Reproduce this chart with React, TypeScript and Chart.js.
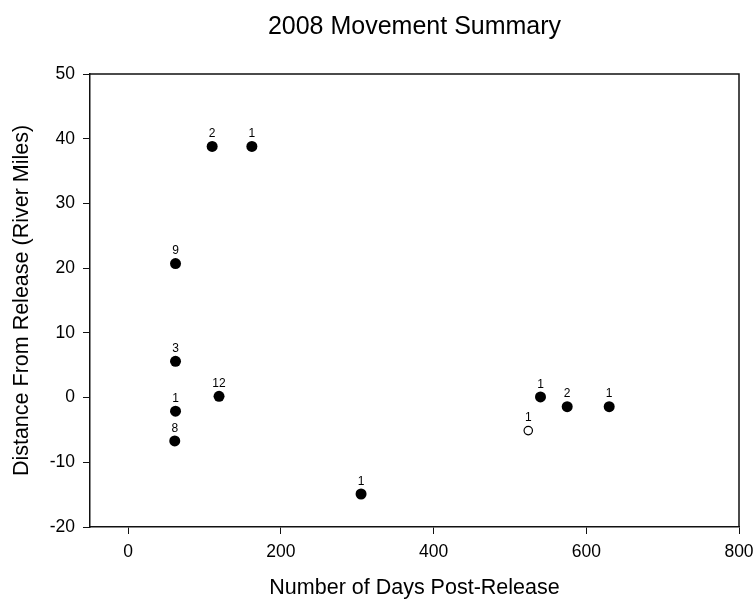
import React, { useEffect, useRef } from "react";
import { Chart, registerables } from "chart.js";

Chart.register(...registerables);

const TITLE = "2008 Movement Summary";
const X_TITLE = "Number of Days Post-Release";
const Y_TITLE = "Distance From Release (River Miles)";

// filled points
const days = [61, 62, 62, 62, 119, 110, 162, 305, 540, 575, 630];
const miles = [-6.7, -2.1, 5.6, 20.7, 0.2, 38.8, 38.8, -14.9, 0.1, -1.4, -1.4];
const counts = ["8", "1", "3", "9", "12", "2", "1", "1", "1", "2", "1"];

// open point
const openDays = [524];
const openMiles = [-5.1];
const openCounts = ["1"];

const xTicks = [0, 200, 400, 600, 800];
const yTicks = [-20, -10, 0, 10, 20, 30, 40, 50];

const FONT = '"Liberation Sans", Arial, sans-serif';

export default function App() {
  const ref = useRef<HTMLCanvasElement | null>(null);

  useEffect(() => {
    if (!ref.current) return;
    const labelSets = [counts, openCounts];

    const annotate = {
      id: "annotate",
      afterDatasetsDraw(chart: any) {
        const ctx = chart.ctx;
        ctx.save();
        ctx.fillStyle = "#000";
        ctx.font = `12px ${FONT}`;
        ctx.textAlign = "center";
        ctx.textBaseline = "middle";
        chart.data.datasets.forEach((_: any, di: number) => {
          const meta = chart.getDatasetMeta(di);
          meta.data.forEach((el: any, i: number) => {
            ctx.fillText(labelSets[di][i], el.x, el.y - 12.5);
          });
        });
        ctx.restore();
      },
      afterDraw(chart: any) {
        const ctx = chart.ctx;
        const a = chart.chartArea;
        ctx.save();
        ctx.strokeStyle = "#111";
        ctx.lineWidth = 1.5;
        ctx.beginPath();
        ctx.moveTo(a.left, a.top);
        ctx.lineTo(a.right, a.top);
        ctx.lineTo(a.right, a.bottom);
        ctx.stroke();
        ctx.fillStyle = "#000";
        ctx.font = `25px ${FONT}`;
        ctx.textAlign = "center";
        ctx.textBaseline = "alphabetic";
        ctx.fillText(TITLE, (a.left + a.right) / 2, 34);
        ctx.restore();
      },
    };

    const chart = new Chart(ref.current, {
      type: "scatter",
      data: {
        datasets: [
          {
            data: days.map((d, i) => ({ x: d, y: miles[i] })),
            pointRadius: 5.5,
            pointHoverRadius: 5.5,
            backgroundColor: "#000",
            borderColor: "#000",
            borderWidth: 0,
          },
          {
            data: openDays.map((d, i) => ({ x: d, y: openMiles[i] })),
            pointRadius: 4.2,
            pointHoverRadius: 4.2,
            backgroundColor: "#fff",
            borderColor: "#000",
            borderWidth: 1.2,
          },
        ],
      },
      options: {
        responsive: false,
        animation: false,
        devicePixelRatio: 1,
        layout: { padding: { top: 74, right: 16, left: 0, bottom: 0 } },
        plugins: {
          legend: { display: false },
          title: { display: false },
          tooltip: { enabled: false },
        },
        scales: {
          x: {
            type: "linear",
            min: -50,
            max: 800,
            afterFit: (s: any) => {
              s.height = 75;
              s.paddingLeft = 0;
              s.paddingRight = 0;
            },
            afterBuildTicks: (s: any) => {
              s.ticks = xTicks.map((v) => ({ value: v }));
            },
            border: { display: true, color: "#111", width: 1.5 },
            grid: {
              drawOnChartArea: false,
              drawTicks: true,
              tickLength: 7,
              color: "#111",
              lineWidth: 1,
            },
            ticks: {
              color: "#000",
              font: { family: FONT, size: 17.5 },
              padding: 8,
              maxRotation: 0,
            },
            title: {
              display: true,
              text: X_TITLE,
              color: "#000",
              font: { family: FONT, size: 21.5 },
              padding: { top: 0, bottom: 1 },
            },
          },
          y: {
            type: "linear",
            min: -20,
            max: 50,
            afterFit: (s: any) => {
              s.width = 90;
              s.paddingTop = 0;
              s.paddingBottom = 0;
            },
            afterBuildTicks: (s: any) => {
              s.ticks = yTicks.map((v) => ({ value: v }));
            },
            border: { display: true, color: "#111", width: 1.5 },
            grid: {
              drawOnChartArea: false,
              drawTicks: true,
              tickLength: 7,
              color: "#111",
              lineWidth: 1,
            },
            ticks: {
              color: "#000",
              font: { family: FONT, size: 17.5 },
              padding: 8,
            },
            title: {
              display: true,
              text: Y_TITLE,
              color: "#000",
              font: { family: FONT, size: 21.5 },
              padding: { top: 9, bottom: 0 },
            },
          },
        },
      },
      plugins: [annotate],
    });

    return () => chart.destroy();
  }, []);

  return (
    <div style={{ position: "absolute", left: 0, top: 0, width: 755, height: 602, background: "#fff" }}>
      <canvas ref={ref} width={755} height={602} style={{ width: 755, height: 602 }} />
    </div>
  );
}
